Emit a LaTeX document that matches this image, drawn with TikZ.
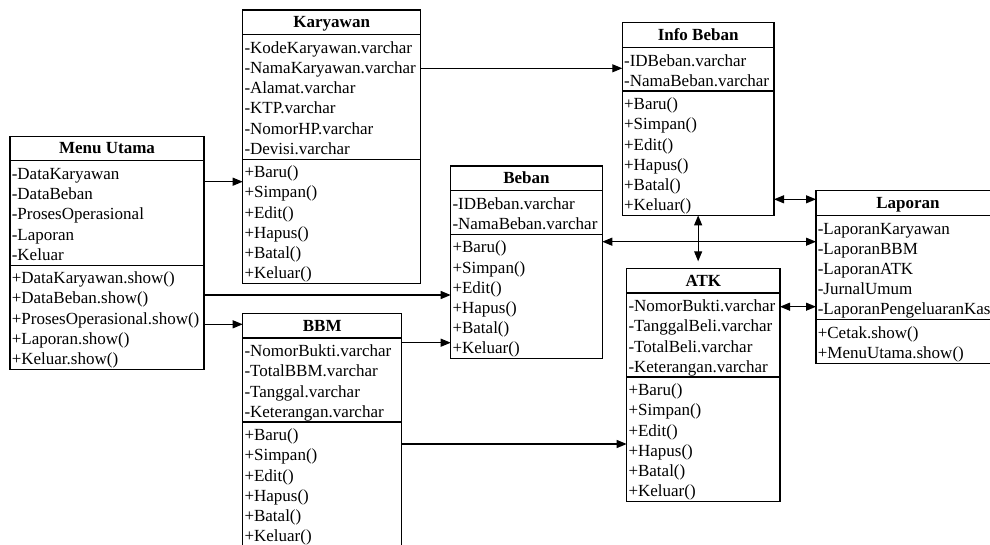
\documentclass[tikz,border=0pt]{standalone}
\usepackage{fontspec}
\setmainfont{Liberation Serif}
\usetikzlibrary{arrows.meta}

% metrics of a class box (in pt)
\newcommand\umlfont{\fontsize{17pt}{20.2pt}\selectfont}
\newcommand\titleh{24.7}
\newcommand\titlebase{17.7}
\newcommand\rowpitch{20.2}
\newcommand\rowpad{1.6}
\newcommand\rowasc{17}
\newcommand\textinset{1.6}

\tikzset{
  classbox/.style={draw, line width=1.1pt, inner sep=0pt, outer sep=0pt, anchor=north west},
  classline/.style={line width=1.1pt},
  classtitle/.style={anchor=base, inner sep=0pt, font=\umlfont\bfseries},
  classrow/.style={anchor=base west, inner sep=0pt, font=\umlfont},
  flow/.style={line width=1.1pt, -{Triangle[length=10pt,width=8pt]}},
  twoway/.style={line width=1.1pt, {Triangle[length=10pt,width=8pt]}-{Triangle[length=10pt,width=8pt]}},
}

% #1 name, #2 left, #3 top, #4 width, #5 title,
% #6 number of attributes, #7 attributes, #8 number of operations, #9 operations
\newcommand\umlclass[9]{%
  \pgfmathsetmacro\ya{#3+\titleh}%
  \pgfmathsetmacro\yb{\ya+#6*\rowpitch+2*\rowpad}%
  \pgfmathsetmacro\yc{\yb+#8*\rowpitch+2*\rowpad}%
  \pgfmathsetmacro\hh{\yc-#3}%
  \node[classbox, minimum width=#4pt, minimum height={\hh pt}] (#1) at (#2,#3) {};
  \node[classtitle] (#1-title) at ({#2+#4/2},{#3+\titlebase}) {#5};
  \draw[classline] (#1.west |- 0,\ya) -- (#1.east |- 0,\ya);
  \draw[classline] (#1.west |- 0,\yb) -- (#1.east |- 0,\yb);
  \foreach \t [count=\i] in {#7}
    \node[classrow] (#1-a\i) at ({#2+\textinset},{\ya+\rowpad+(\i-1)*\rowpitch+\rowasc}) {\t};
  \foreach \t [count=\i] in {#9}
    \node[classrow] (#1-m\i) at ({#2+\textinset},{\yb+\rowpad+(\i-1)*\rowpitch+\rowasc}) {\t};
}

\begin{document}
\begin{tikzpicture}[x=1pt, y=-1pt]
\fill[white] (0,0) rectangle (990,544);
\useasboundingbox (0,0) rectangle (990,544);

\umlclass{menu}{10}{136.2}{194}{Menu Utama}
  {5}{-DataKaryawan,-DataBeban,-ProsesOperasional,-Laporan,-Keluar}
  {5}{+DataKaryawan.show(),+DataBeban.show(),+ProsesOperasional.show(),+Laporan.show(),+Keluar.show()}

\umlclass{kar}{242.7}{10}{178}{Karyawan}
  {6}{-KodeKaryawan.varchar,-NamaKaryawan.varchar,-Alamat.varchar,-KTP.varchar,-NomorHP.varchar,-Devisi.varchar}
  {6}{+Baru(),+Simpan(),+Edit(),+Hapus(),+Batal(),+Keluar()}

\umlclass{info}{622.3}{22.7}{151.7}{Info Beban}
  {2}{-IDBeban.varchar,-NamaBeban.varchar}
  {6}{+Baru(),+Simpan(),+Edit(),+Hapus(),+Batal(),+Keluar()}

\umlclass{beban}{450.7}{166}{151.6}{Beban}
  {2}{-IDBeban.varchar,-NamaBeban.varchar}
  {6}{+Baru(),+Simpan(),+Edit(),+Hapus(),+Batal(),+Keluar()}

\umlclass{lap}{816}{190.7}{184}{Laporan}
  {5}{-LaporanKaryawan,-LaporanBBM,-LaporanATK,-JurnalUmum,-LaporanPengeluaranKas}
  {2}{+Cetak.show(),+MenuUtama.show()}

\umlclass{atk}{626.7}{268.3}{153.3}{ATK}
  {4}{-NomorBukti.varchar,-TanggalBeli.varchar,-TotalBeli.varchar,-Keterangan.varchar}
  {6}{+Baru(),+Simpan(),+Edit(),+Hapus(),+Batal(),+Keluar()}

\umlclass{bbm}{242.7}{313.3}{159}{BBM}
  {4}{-NomorBukti.varchar,-TotalBBM.varchar,-Tanggal.varchar,-Keterangan.varchar}
  {6}{+Baru(),+Simpan(),+Edit(),+Hapus(),+Batal(),+Keluar()}

% connectors
\draw[flow] (menu.east |- 0,181.7) -- (kar.west |- 0,181.7);
\draw[flow] (menu.east |- 0,295) -- (beban.west |- 0,295);
\draw[flow] (menu.east |- 0,324.3) -- (bbm.west |- 0,324.3);
\draw[flow] (kar.east |- 0,68.3) -- (info.west |- 0,68.3);
\draw[twoway] (info.east |- 0,199.3) -- (lap.west |- 0,199.3);
\draw[twoway] (beban.east |- 0,241.7) -- (lap.west |- 0,241.7);
\draw[twoway] (info.south) -- ([yshift=7pt]info.south |- atk.north);
\draw[twoway] (atk.east |- 0,306.7) -- (lap.west |- 0,306.7);
\draw[flow] (bbm.east |- 0,342.7) -- (beban.west |- 0,342.7);
\draw[flow] (bbm.east |- 0,444) -- (atk.west |- 0,444);
\end{tikzpicture}
\end{document}
